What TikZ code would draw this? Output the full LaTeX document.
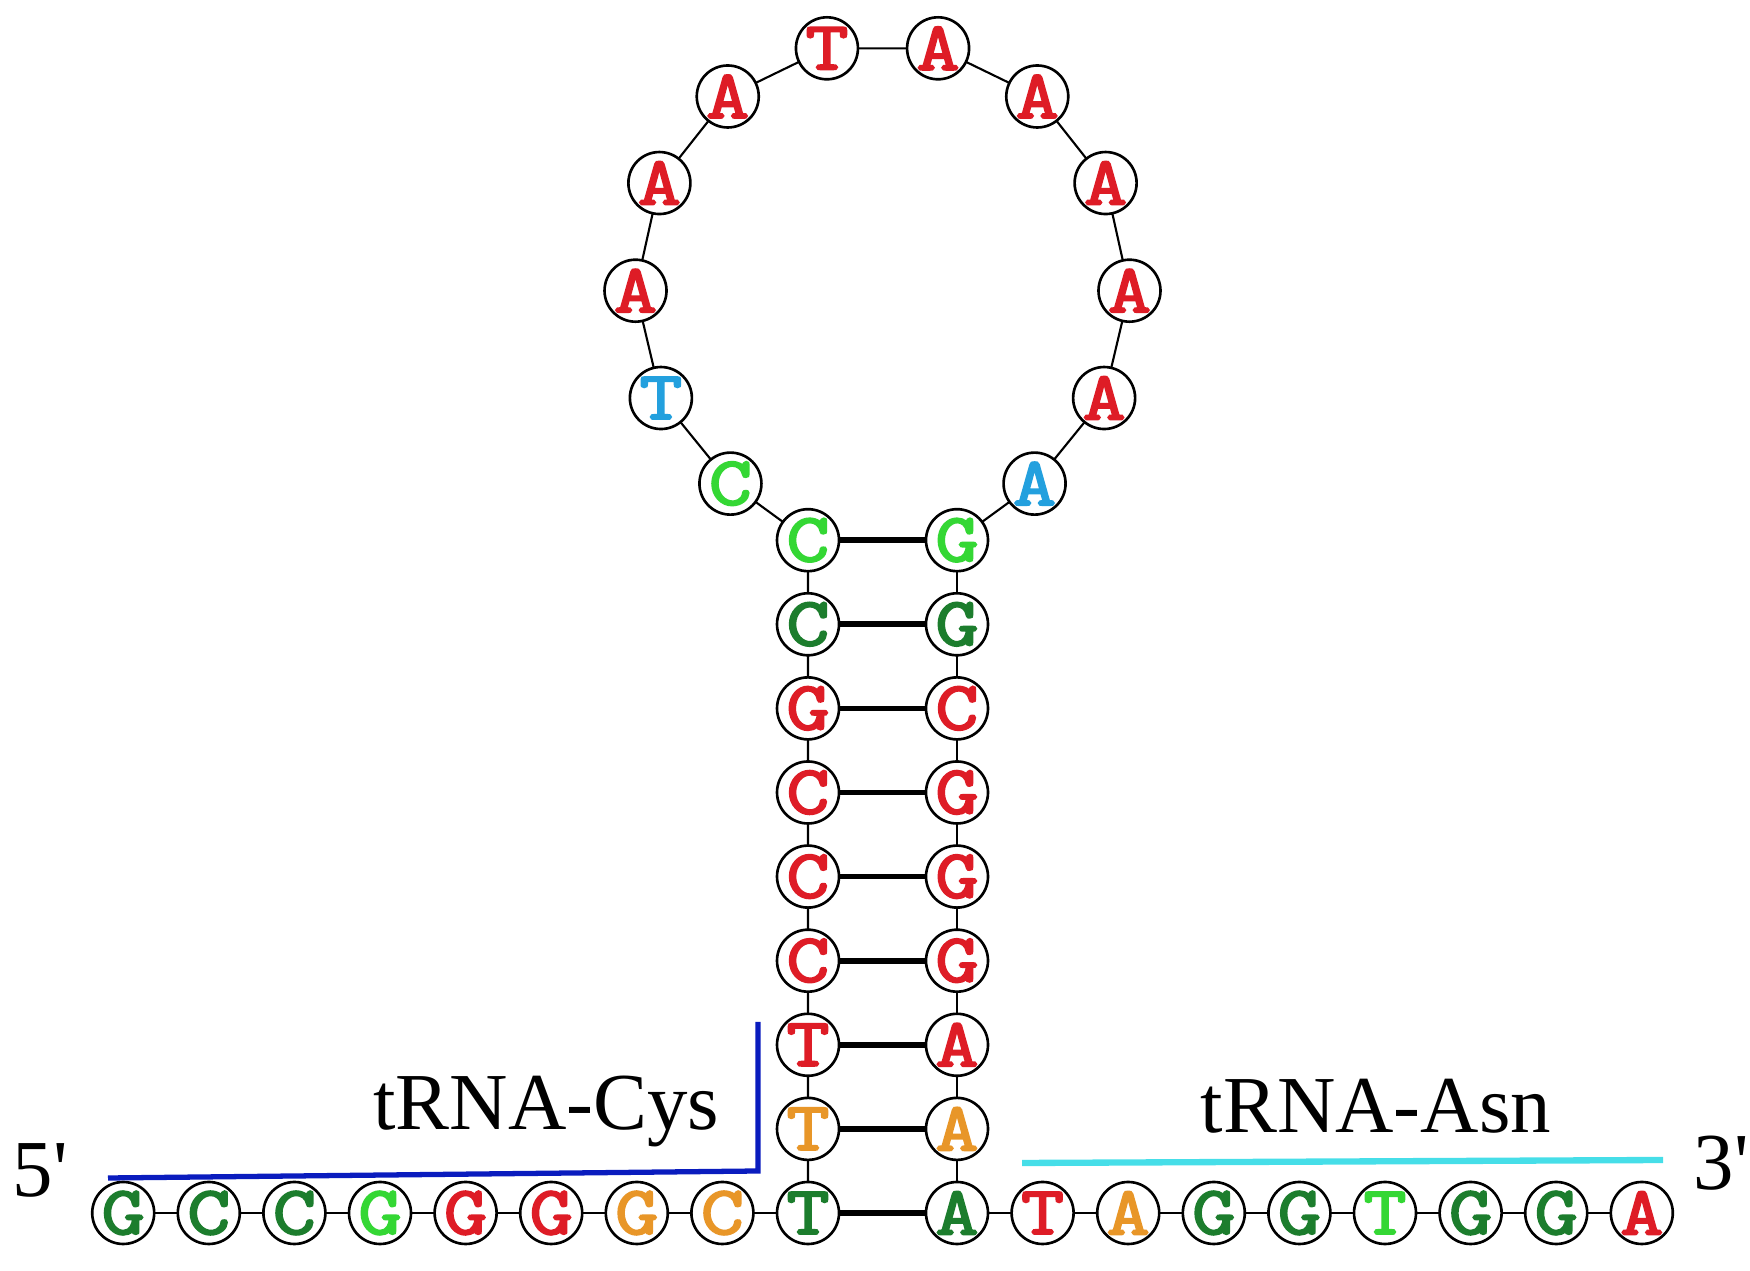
\documentclass[tikz,border=0pt]{standalone}
\usepackage{fontspec}
\setmainfont{Liberation Serif}
\newfontfamily\ntfont{Latin Modern Mono}[FakeBold=3, FakeStretch=1.22]
\usetikzlibrary{positioning, calc}
\definecolor{nred}{RGB}{222,28,38}
\definecolor{ndkgreen}{RGB}{28,125,45}
\definecolor{nltgreen}{RGB}{52,215,52}
\definecolor{norange}{RGB}{232,150,40}
\definecolor{nsky}{RGB}{35,160,222}
\definecolor{cysblue}{RGB}{10,28,190}
\definecolor{asncyan}{RGB}{70,222,232}
\tikzset{%
	nt/.style={draw, circle, minimum size=6.2mm, inner sep=0mm, outer sep=0mm, fill=white, line width=0.75pt,%
		font=\ntfont\fontsize{19.5}{19.5}\selectfont},
	redb/.style={text=nred},
	dkgr/.style={text=ndkgreen},
	ltgr/.style={text=nltgreen},
	orng/.style={text=norange},
	skyb/.style={text=nsky},
	backbone/.style={line width=0.6pt},
	pair/.style={line width=1.6pt},
	region/.style={line width=1.5pt},
	tag/.style={font=\fontsize{23}{23}\selectfont, inner sep=0pt}
}
\begin{document}
\begin{tikzpicture}[node distance=2.21mm and 2.36mm]
	\useasboundingbox (0,0) rectangle (17.5,12.71);

	%stem, left strand
	\node[nt, dkgr] (l1) at (8.08,0.58) {T};
	\node[nt, orng, above=of l1] (l2) {T};
	\node[nt, redb, above=of l2] (l3) {T};
	\node[nt, redb, above=of l3] (l4) {C};
	\node[nt, redb, above=of l4] (l5) {C};
	\node[nt, redb, above=of l5] (l6) {C};
	\node[nt, redb, above=of l6] (l7) {G};
	\node[nt, dkgr, above=of l7] (l8) {C};
	\node[nt, ltgr, above=of l8] (l9) {C};

	%stem, right strand
	\node[nt, dkgr] (r1) at (9.57,0.58) {A};
	\node[nt, orng, above=of r1] (r2) {A};
	\node[nt, redb, above=of r2] (r3) {A};
	\node[nt, redb, above=of r3] (r4) {G};
	\node[nt, redb, above=of r4] (r5) {G};
	\node[nt, redb, above=of r5] (r6) {G};
	\node[nt, redb, above=of r6] (r7) {C};
	\node[nt, dkgr, above=of r7] (r8) {G};
	\node[nt, ltgr, above=of r8] (r9) {G};

	%loop
	\coordinate (c) at (8.825,9.82);
	\node[nt, ltgr] (o1)  at ($(c)+(232:2.47)$)   {C};
	\node[nt, skyb] (o2)  at ($(c)+(206.2:2.47)$) {T};
	\node[nt, redb] (o3)  at ($(c)+(180.4:2.47)$) {A};
	\node[nt, redb] (o4)  at ($(c)+(154.6:2.47)$) {A};
	\node[nt, redb] (o5)  at ($(c)+(128.8:2.47)$) {A};
	\node[nt, redb] (o6)  at ($(c)+(103:2.47)$)   {T};
	\node[nt, redb] (o7)  at ($(c)+(77:2.47)$)    {A};
	\node[nt, redb] (o8)  at ($(c)+(51.2:2.47)$)  {A};
	\node[nt, redb] (o9)  at ($(c)+(25.4:2.47)$)  {A};
	\node[nt, redb] (o10) at ($(c)+(-0.4:2.47)$)  {A};
	\node[nt, redb] (o11) at ($(c)+(-26.2:2.47)$) {A};
	\node[nt, skyb] (o12) at ($(c)+(-52:2.47)$)   {A};

	%5' tail
	\node[nt, orng, left=of l1] (p8) {C};
	\node[nt, orng, left=of p8] (p7) {G};
	\node[nt, redb, left=of p7] (p6) {G};
	\node[nt, redb, left=of p6] (p5) {G};
	\node[nt, ltgr, left=of p5] (p4) {G};
	\node[nt, dkgr, left=of p4] (p3) {C};
	\node[nt, dkgr, left=of p3] (p2) {C};
	\node[nt, dkgr, left=of p2] (p1) {G};

	%3' tail
	\node[nt, redb, right=of r1] (q1) {T};
	\node[nt, orng, right=of q1] (q2) {A};
	\node[nt, dkgr, right=of q2] (q3) {G};
	\node[nt, dkgr, right=of q3] (q4) {G};
	\node[nt, ltgr, right=of q4] (q5) {T};
	\node[nt, dkgr, right=of q5] (q6) {G};
	\node[nt, dkgr, right=of q6] (q7) {G};
	\node[nt, redb, right=of q7] (q8) {A};

	%backbone
	\draw[backbone] (p1) -- (p2) -- (p3) -- (p4) -- (p5) -- (p6) -- (p7) -- (p8) -- (l1);
	\draw[backbone] (l1) -- (l2) -- (l3) -- (l4) -- (l5) -- (l6) -- (l7) -- (l8) -- (l9) -- (o1);
	\draw[backbone] (o1) -- (o2) -- (o3) -- (o4) -- (o5) -- (o6) -- (o7) -- (o8) -- (o9) -- (o10) -- (o11) -- (o12) -- (r9);
	\draw[backbone] (r9) -- (r8) -- (r7) -- (r6) -- (r5) -- (r4) -- (r3) -- (r2) -- (r1) -- (q1);
	\draw[backbone] (q1) -- (q2) -- (q3) -- (q4) -- (q5) -- (q6) -- (q7) -- (q8);

	%base pairs
	\draw[pair] (l1) -- (r1);
	\draw[pair] (l2) -- (r2);
	\draw[pair] (l3) -- (r3);
	\draw[pair] (l4) -- (r4);
	\draw[pair] (l5) -- (r5);
	\draw[pair] (l6) -- (r6);
	\draw[pair] (l7) -- (r7);
	\draw[pair] (l8) -- (r8);
	\draw[pair] (l9) -- (r9);

	%tRNA genes
	\coordinate (cys-start) at (1.08,0.93);
	\coordinate (cys-corner) at (7.58,1.00);
	\coordinate (cys-end) at (7.58,2.49);
	\draw[region, cysblue] (cys-start) -- (cys-corner) -- (cys-end);
	\node[tag, anchor=base east] (cys) at (7.20,1.41) {tRNA-Cys};

	\coordinate (asn-start) at (10.22,1.08);
	\coordinate (asn-end) at (16.63,1.11);
	\draw[region, line width=1.8pt, asncyan] (asn-start) -- (asn-end);
	\node[tag, anchor=base west] (asn) at (12.00,1.38) {tRNA-Asn};

	%ends
	\node[tag, anchor=base west] (five) at (0.12,0.74) {5\textquotesingle};
	\node[tag, anchor=base west] (three) at (16.93,0.81) {3\textquotesingle};

\end{tikzpicture}
\end{document}
